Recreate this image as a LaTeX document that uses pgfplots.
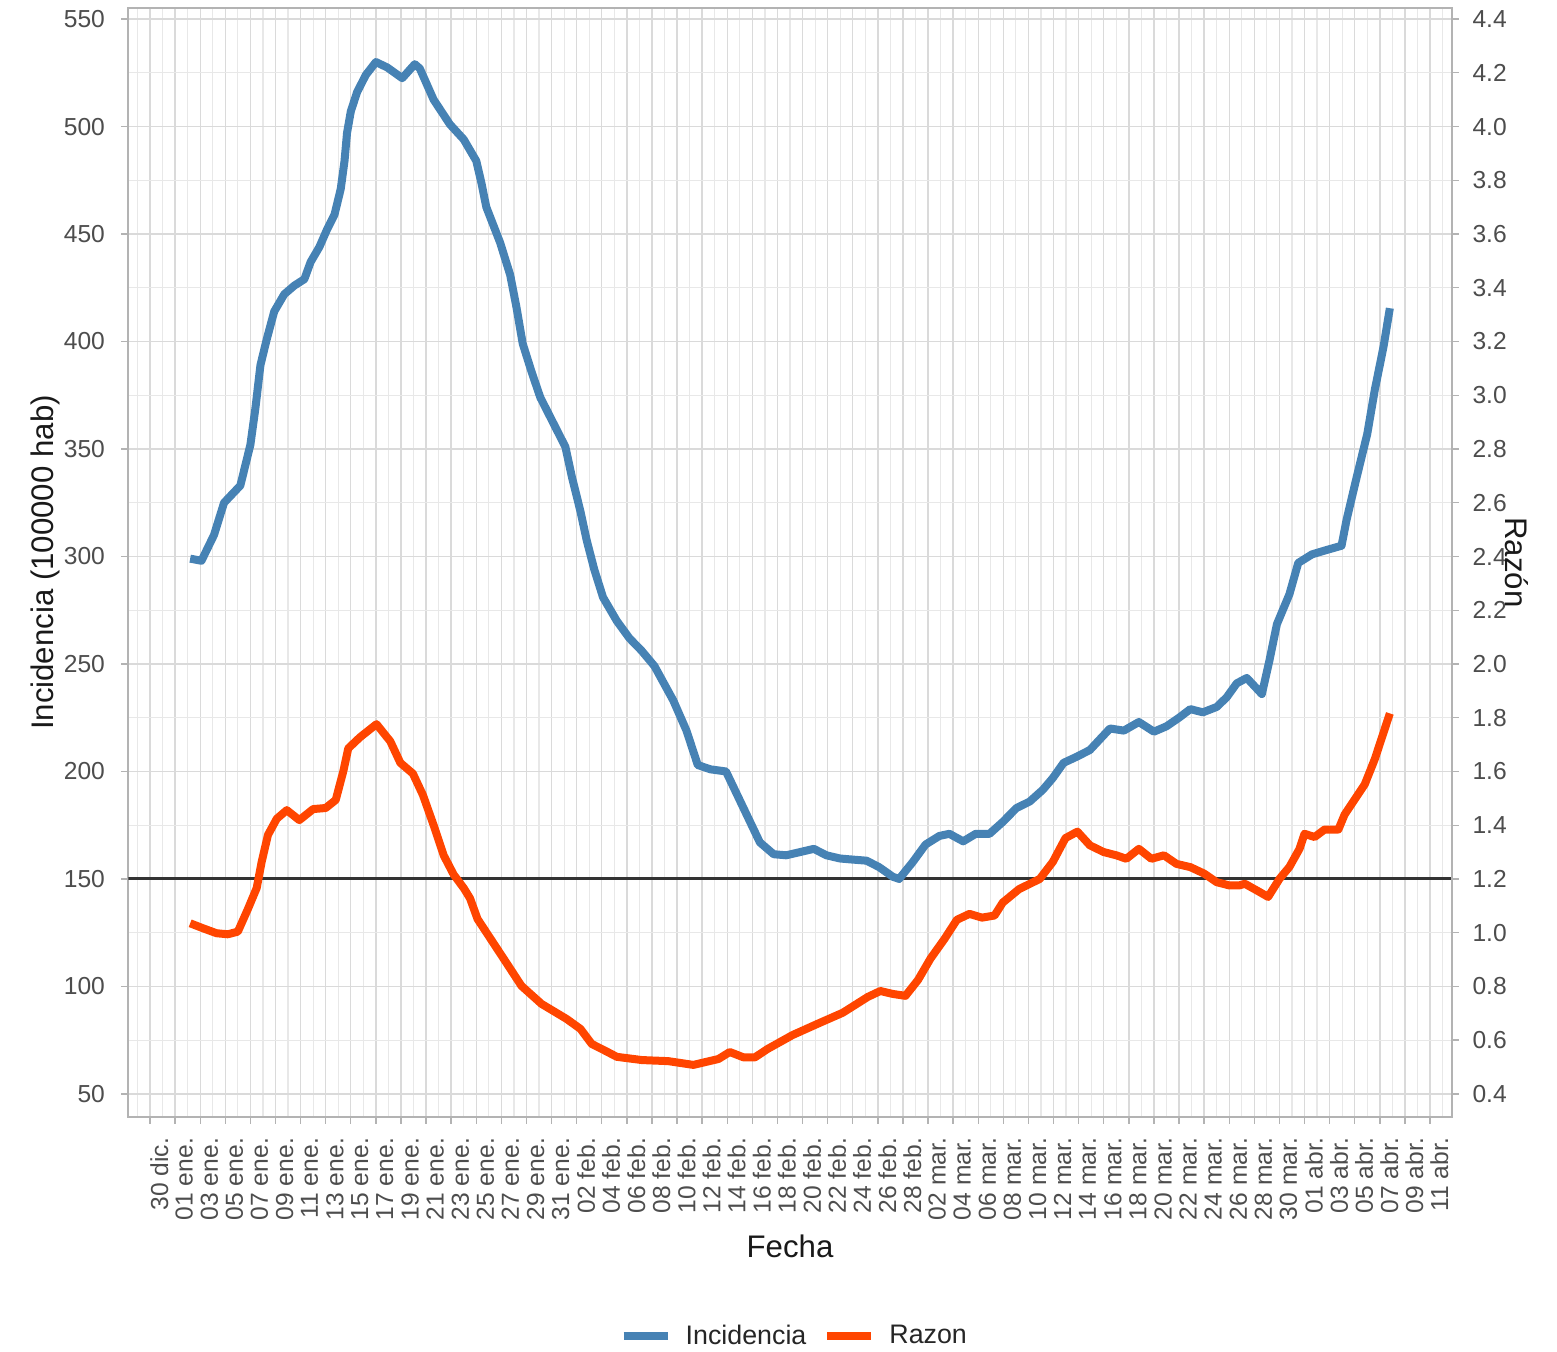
\documentclass[border=0pt]{standalone}
\usepackage{fontspec}
\setmainfont{Liberation Sans}
\usepackage{pgfplots}
\pgfplotsset{compat=1.18}
\definecolor{incblue}{HTML}{4682B4}
\definecolor{razred}{HTML}{FF4500}
\definecolor{tickgray}{HTML}{4D4D4D}
\definecolor{bordergray}{HTML}{B3B3B3}
\definecolor{gridmaj}{HTML}{DADADA}
\definecolor{gridmin}{HTML}{E8E8E8}
\begin{document}
\begin{tikzpicture}
\path[use as bounding box] (-64.15pt,-117.15pt) rectangle (714.35pt,558.35pt);
\pgfplotsset{
  base/.style={
    scale only axis, width=661.7pt, height=554.2pt,
    at={(0pt,0pt)}, anchor=south west,
    xmin=-1.73, xmax=103.73,
    tick align=outside,
    major tick length=3.5pt, minor tick length=0pt,
    every tick/.style={bordergray, line width=0.7pt},
    tick label style={font=\fontsize{12.3}{14}\selectfont, text=tickgray},
    /pgf/number format/assume math mode=true,
    axis line style={bordergray, line width=0.8pt},
    label style={font=\fontsize{15.6}{18}\selectfont, text=black!90},
  }
}
\begin{axis}[base,
  ymin=39.4, ymax=555,
  xtick={0,2,...,102},
  minor xtick={-1,1,...,103},
  ytick={50,100,...,550},
  minor ytick={75,125,...,525},
  xtick pos=bottom, ytick pos=left,
  xticklabels={30 dic.,01 ene.,03 ene.,05 ene.,07 ene.,09 ene.,11 ene.,13 ene.,15 ene.,17 ene.,19 ene.,21 ene.,23 ene.,25 ene.,27 ene.,29 ene.,31 ene.,02 feb.,04 feb.,06 feb.,08 feb.,10 feb.,12 feb.,14 feb.,16 feb.,18 feb.,20 feb.,22 feb.,24 feb.,26 feb.,28 feb.,02 mar.,04 mar.,06 mar.,08 mar.,10 mar.,12 mar.,14 mar.,16 mar.,18 mar.,20 mar.,22 mar.,24 mar.,26 mar.,28 mar.,30 mar.,01 abr.,03 abr.,05 abr.,07 abr.,09 abr.,11 abr.},
  xticklabel style={rotate=90, anchor=north east, inner sep=0pt},
  xticklabel shift=7pt,
  yticklabel style={anchor=east, inner sep=0pt},
  yticklabel shift=8pt,
  grid=both,
  major grid style={gridmaj, line width=0.7pt},
  minor grid style={gridmin, line width=0.6pt},
  xlabel={Fecha},
  ylabel={Incidencia (100000 hab)},
  xlabel style={at={(axis description cs:0.5,-0.117)}, anchor=center},
  ylabel style={at={(axis description cs:-0.0627,0.5)}, anchor=center},
]
\addplot[color=black!80, line width=1.5pt, forget plot] coordinates {(-1.73,150) (103.73,150)};
\addplot[incblue, line width=4pt, line join=round] coordinates {
(3.2,299) (4.1,298) (5.1,310) (5.9,325) (7.2,333) (8.0,352) (8.4,369) (8.8,389)
(9.3,401) (9.9,414) (10.7,422) (11.5,426) (12.3,429) (12.8,437) (13.5,444) (14.1,452)
(14.7,459) (15.2,471) (15.5,484) (15.7,497) (16.0,507) (16.5,516) (17.2,524) (18.0,530)
(18.9,527.5) (20.1,522.5) (21.1,529) (21.5,527) (22.6,512.5) (23.9,501) (25.0,494)
(26.0,484) (26.4,474) (26.8,462.5) (27.9,446) (28.7,431) (29.2,416) (29.7,399)
(30.4,386) (31.1,374) (32.1,362.5) (33.1,351) (33.6,337.5) (34.3,321) (34.8,307.5)
(35.4,294) (36.1,281) (37.2,270) (38.2,262) (39.2,256) (40.2,249) (41.7,233)
(42.75,219) (43.65,203) (44.65,201) (45.9,200) (46.8,189) (47.7,178) (48.6,167)
(49.7,161.5) (50.7,161) (51.8,162.5) (52.9,164) (53.9,161) (55.0,159.5) (56.0,159)
(57.1,158.5) (58.1,155.5) (59.2,151) (59.7,150) (60.8,158) (61.8,166) (62.9,170)
(63.7,171) (64.8,167.5) (65.8,171) (66.9,171) (67.95,176.5) (69.05,183) (70.1,186)
(71.15,191.5) (71.95,197) (72.8,204) (73.9,207) (74.9,210) (75.7,215) (76.5,220)
(77.6,219) (78.8,223) (80.0,218.5) (81.0,221) (82.0,225) (82.9,229) (83.9,227.5)
(85.0,230) (85.8,234.5) (86.6,241) (87.4,243.5) (88.6,236) (89.2,251.5) (89.8,268.5)
(90.8,282.5) (91.5,297) (92.6,301) (93.75,303) (94.95,305) (95.35,317) (96.1,335.5)
(97.0,357) (97.6,377.5) (98.3,397.7) (98.8,415.5)
};
\end{axis}
\begin{axis}[base,
  ymin=0.3152, ymax=4.44,
  axis y line*=right, axis x line=none,
  ytick={0.4,0.6,0.8,1.0,1.2,1.4,1.6,1.8,2.0,2.2,2.4,2.6,2.8,3.0,3.2,3.4,3.6,3.8,4.0,4.2,4.4},
  yticklabel style={anchor=west, inner sep=0pt, /pgf/number format/.cd, fixed, fixed zerofill, precision=1},
  yticklabel shift=6.7pt,
  ylabel={Razón},
  ylabel style={rotate=180, at={(axis description cs:1.0495,0.5)}, anchor=center},
  legend style={at={(axis description cs:0.504,-0.198)}, anchor=center, draw=none, fill=none,
    legend columns=2, font=\fontsize{13.4}{15}\selectfont, text=black!85,
    /tikz/every even column/.append style={column sep=6.5pt}},
  legend image code/.code={\draw[#1] (0pt,0pt) -- (22pt,0pt); \path (27pt,0pt);},
]
\addlegendimage{incblue, line width=4pt}
\addlegendentry{Incidencia}
\addplot[razred, line width=4pt, line join=round] coordinates {
(3.2,1.035) (4.25,1.016) (5.3,0.998) (6.2,0.994) (7.0,1.004) (7.8,1.088) (8.5,1.166)
(8.9,1.264) (9.4,1.364) (10.1,1.424) (10.9,1.456) (11.9,1.419) (13.0,1.46) (14.0,1.464)
(14.8,1.494) (15.4,1.6) (15.8,1.686) (16.75,1.728) (18.05,1.776) (19.15,1.712)
(19.95,1.632) (20.95,1.592) (21.75,1.512) (22.6,1.40) (23.4,1.288) (24.2,1.216)
(25.0,1.166) (25.5,1.128) (26.1,1.051) (28.2,0.902) (29.6,0.802) (31.2,0.735)
(33.2,0.679) (34.3,0.642) (35.2,0.586) (36.3,0.56) (37.2,0.538) (39.2,0.526)
(41.3,0.522) (43.3,0.508) (45.3,0.53) (46.2,0.556) (47.3,0.536) (48.2,0.536)
(49.2,0.567) (51.2,0.619) (53.2,0.661) (55.2,0.702) (57.2,0.761) (58.2,0.783)
(59.2,0.772) (60.2,0.765) (61.2,0.824) (62.2,0.904) (63.3,0.976) (64.3,1.048)
(65.3,1.07) (66.3,1.056) (67.3,1.064) (67.95,1.112) (69.25,1.162) (70.9,1.2)
(71.95,1.264) (72.95,1.352) (73.9,1.376) (74.9,1.325) (76.0,1.3) (77.0,1.288)
(77.8,1.275) (78.8,1.312) (79.8,1.275) (80.8,1.288) (81.8,1.256) (82.9,1.244)
(84.0,1.22) (85.0,1.188) (86.0,1.176) (86.8,1.176) (87.25,1.182) (88.4,1.152)
(89.1,1.133) (90.0,1.2) (90.8,1.245) (91.6,1.312) (92.0,1.368) (92.8,1.356)
(93.6,1.384) (94.7,1.384) (95.2,1.44) (96.0,1.496) (96.8,1.552) (97.6,1.646) (98.8,1.816)
};
\addlegendentry{Razon}
\end{axis}
\end{tikzpicture}
\end{document}
